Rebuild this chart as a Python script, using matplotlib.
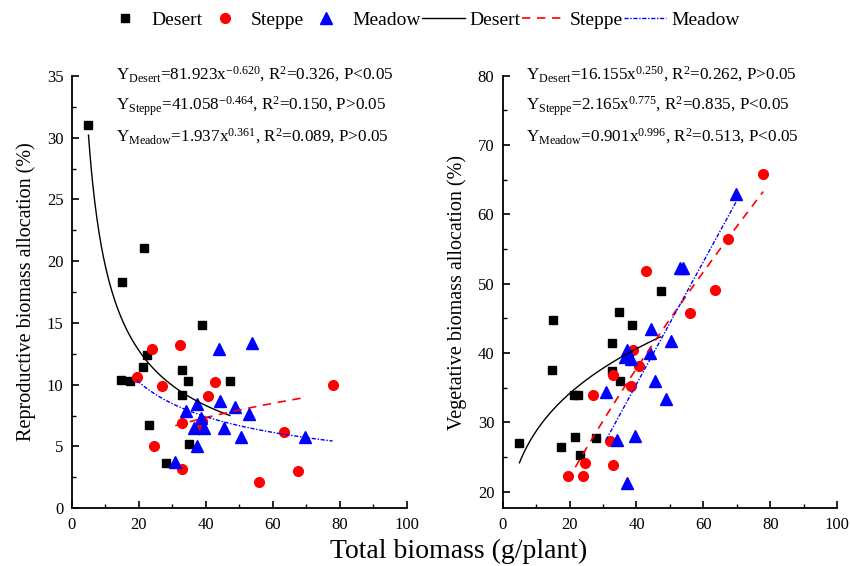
import numpy as np
import matplotlib
matplotlib.use("Agg")
import matplotlib.pyplot as plt
from matplotlib.lines import Line2D

plt.rcParams["font.family"] = ["Liberation Serif", "DejaVu Serif"]
plt.rcParams["mathtext.fontset"] = "custom"
plt.rcParams["mathtext.rm"] = "Liberation Serif"
plt.rcParams["mathtext.it"] = "Liberation Serif:italic"

# total biomass (g/plant) per group, shared by both panels
desert_x = [5.0, 15.1, 14.8, 38.8, 22.6, 21.3, 21.6, 17.5, 32.8, 32.8, 34.8, 35.0, 47.2, 23.2, 28.0]
desert_repro = [31.0, 18.3, 10.4, 14.8, 12.4, 11.4, 21.1, 10.3, 11.2, 9.2, 10.3, 5.2, 10.3, 6.7, 3.7]
desert_veg = [27.0, 44.8, 37.5, 44.0, 33.9, 33.9, 27.9, 26.4, 41.5, 37.4, 45.9, 36.0, 49.0, 25.3, 27.7]

steppe_x = [19.5, 23.9, 24.6, 27.0, 32.2, 32.9, 32.9, 38.3, 39.0, 40.8, 42.7, 56.0, 63.4, 67.5, 77.9]
steppe_repro = [10.6, 12.9, 5.0, 9.9, 13.2, 6.9, 3.2, 6.5, 7.1, 9.1, 10.2, 2.1, 6.2, 3.0, 10.0]
steppe_veg = [22.2, 22.3, 24.1, 33.9, 27.3, 36.9, 23.9, 35.3, 40.5, 38.1, 51.9, 45.8, 49.1, 56.5, 65.8]

meadow_x = [30.9, 34.1, 36.6, 37.3, 37.3, 38.5, 39.6, 44.0, 44.3, 45.4, 48.8, 50.4, 53.0, 53.8, 69.7]
meadow_repro = [3.75, 7.9, 6.5, 8.4, 5.05, 7.3, 6.5, 12.9, 8.7, 6.5, 8.2, 5.8, 7.6, 13.4, 5.75]
meadow_veg = [34.4, 27.4, 39.4, 40.4, 21.2, 39.1, 28.1, 40.0, 43.5, 35.9, 33.4, 41.8, 52.3, 52.3, 63.0]

# power-law fits y = a * x^b
repro_fit = {"Desert": (81.923, -0.620), "Steppe": (41.058, -0.464), "Meadow": (1.937, 0.361)}
veg_fit = {"Desert": (16.155, 0.250), "Steppe": (2.165, 0.775), "Meadow": (0.901, 0.996)}


def eq(group, coef, power, r2, p, with_x=True):
    sub = r"$_{\mathregular{%s}}$" % group
    sup = r"$^{\mathregular{%s}}$" % power
    x = "x" if with_x else ""
    return "Y%s=%s%s%s, R$^{\\mathregular{2}}$=%s, P%s" % (sub, coef, x, sup, r2, p)


repro_eq = [
    eq("Desert", "81.923", "-0.620", "0.326", "<0.05"),
    eq("Steppe", "41.058", "-0.464", "0.150", ">0.05", with_x=False),
    eq("Meadow", "1.937", "0.361", "0.089", ">0.05"),
]
veg_eq = [
    eq("Desert", "16.155", "0.250", "0.262", ">0.05"),
    eq("Steppe", "2.165", "0.775", "0.835", "<0.05"),
    eq("Meadow", "0.901", "0.996", "0.513", "<0.05"),
]

LINE_STYLES = {
    "solid": dict(color="black", lw=1.0, ls="-"),
    "dash": dict(color="red", lw=1.2, ls=(0, (5, 4))),
    "dot": dict(color="blue", lw=1.0, ls=(0, (3, 1.2, 1, 1.2))),
}


def power_curve(ax, xs, fit, style):
    x = np.linspace(min(xs), max(xs), 200)
    a, b = fit
    ax.plot(x, a * x ** b, zorder=4, **LINE_STYLES[style])


def panel(ax, ys, fits, curve_map, eqs, eq_x, ylim, yticks, ylabel):
    ax.plot(desert_x, ys[0], "s", color="black", ms=6, zorder=3)
    ax.plot(steppe_x, ys[1], "o", color="red", mec="red", ms=7, zorder=3)
    ax.plot(meadow_x, ys[2], "^", color="blue", ms=8, zorder=3)
    # each curve: (x range of group, fit of group, line style)
    for xs, key, style in curve_map:
        power_curve(ax, xs, fits[key], style)

    ax.set_xticks(np.arange(0, 101, 20))
    ax.set_xticks(np.arange(10, 100, 20), minor=True)
    ax.set_yticks(yticks)
    step = yticks[1] - yticks[0]
    ax.set_yticks(np.arange(yticks[0] + step / 2, ylim[1], step), minor=True)
    ax.set_xlim(0, 100)
    ax.set_ylim(*ylim)
    ax.tick_params(direction="in", labelsize=12, length=5, width=1.2, pad=6)
    ax.tick_params(which="minor", direction="in", length=3, width=1.0)
    for s in ["top", "right"]:
        ax.spines[s].set_visible(False)
    for s in ["left", "bottom"]:
        ax.spines[s].set_linewidth(1.3)
    ax.set_ylabel(ylabel, fontsize=14.5, labelpad=8)
    for i, t in enumerate(eqs):
        ax.text(eq_x, 0.991 - i * 0.0717, t, transform=ax.transAxes, fontsize=12.3,
                va="baseline", ha="left", clip_on=False)


fig = plt.figure(figsize=(8.5, 5.66), dpi=100)
ax1 = fig.add_axes([0.0844, 0.102, 0.394, 0.764])
ax2 = fig.add_axes([0.5914, 0.102, 0.3935, 0.764])

# left panel: curves drawn as in the original figure
panel(ax1, [desert_repro, steppe_repro, meadow_repro], repro_fit,
      [(desert_x, "Desert", "solid"), (meadow_x, "Meadow", "dash"), (steppe_x, "Steppe", "dot")],
      repro_eq, 0.132, (0, 35), np.arange(0, 36, 5), "Reproductive biomass allocation (%)")
panel(ax2, [desert_veg, steppe_veg, meadow_veg], veg_fit,
      [(desert_x, "Desert", "solid"), (steppe_x, "Steppe", "dash"), (meadow_x, "Meadow", "dot")],
      veg_eq, 0.07, (17.6, 80), np.arange(20, 81, 10), "Vegetative biomass allocation (%)")

fig.text(0.54, 0.0265, "Total biomass (g/plant)", ha="center", va="center", fontsize=20)

handles = [
    Line2D([], [], marker="s", color="black", ls="none", ms=6),
    Line2D([], [], marker="o", color="red", ls="none", ms=7),
    Line2D([], [], marker="^", color="blue", ls="none", ms=8),
    Line2D([], [], **LINE_STYLES["solid"]),
    Line2D([], [], **LINE_STYLES["dash"]),
    Line2D([], [], **LINE_STYLES["dot"]),
]
labels = ["Desert", "Steppe", "Meadow", "Desert", "Steppe", "Meadow"]
fig.legend(handles, labels, loc="center", bbox_to_anchor=(0.496, 0.965), ncol=6,
           frameon=False, fontsize=14, handlelength=2.2, handletextpad=0.25,
           columnspacing=0.05, borderpad=0.2)

fig.savefig("out.png", dpi=100)
